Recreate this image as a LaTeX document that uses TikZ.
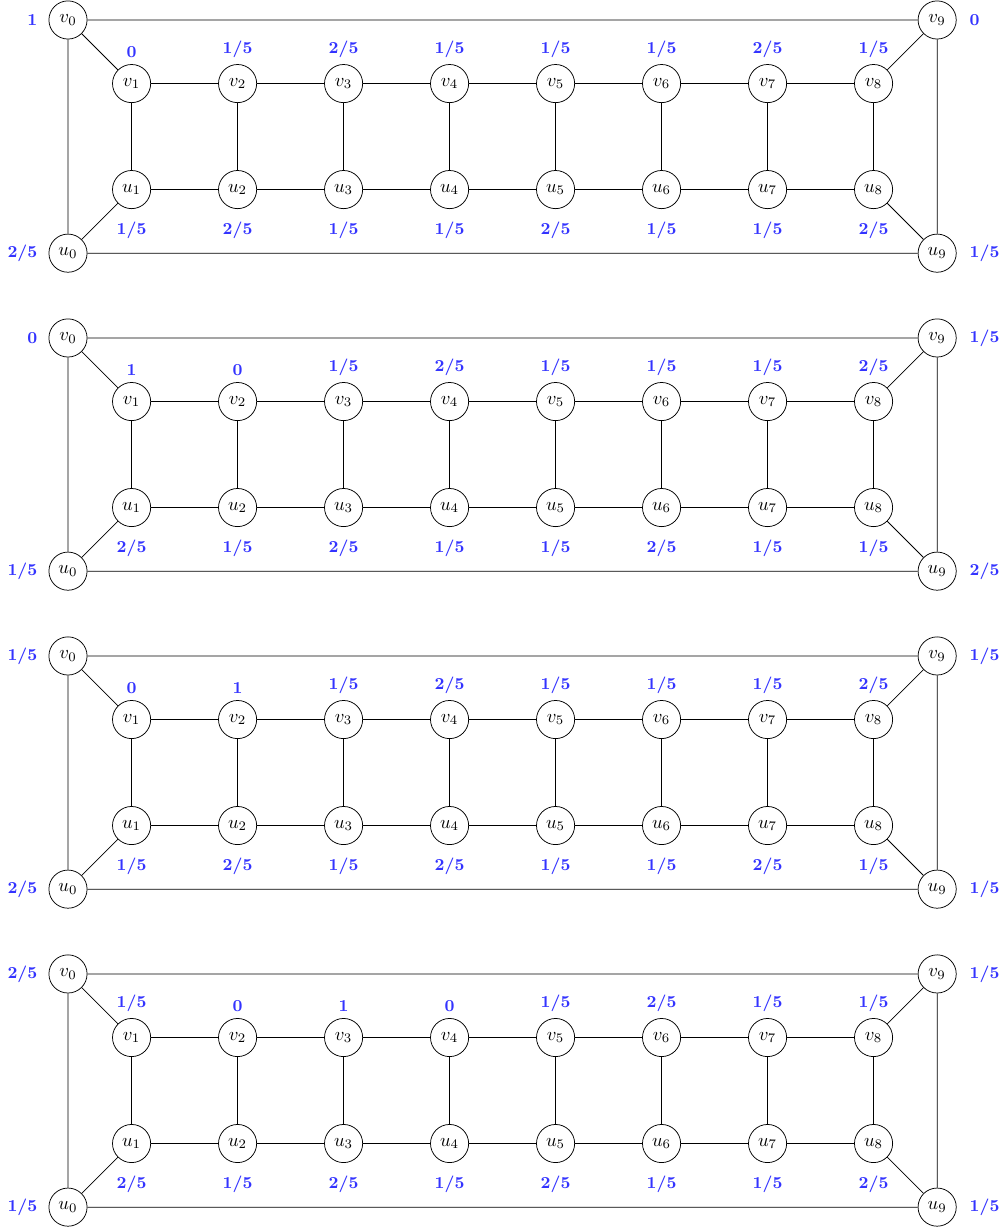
\documentclass[tikz,border=0pt]{standalone}
\tikzset{
  vtx/.style={circle, draw, minimum size=7.2mm, inner sep=0pt},
  val/.style={text=blue!80, font=\small\bfseries},
  vup/.style={label={[val, label distance=0pt]above:#1}},
  vdn/.style={label={[val, label distance=3.5pt]below:#1}},
  vlt/.style={label={[val, label distance=2.5pt]left:#1}},
  vrt/.style={label={[val, label distance=3.5pt]right:#1}},
}
% 外圈与梯子的边
\newcommand{\ladderedges}{%
  \draw (v0) -- (v9) (u0) -- (u9) (v0) -- (u0) (v9) -- (u9)
        (v0) -- (v1) (u0) -- (u1) (v8) -- (v9) (u8) -- (u9);
  \foreach \i in {1,...,8} \draw (v\i) -- (u\i);
  \foreach \i [evaluate=\i as \j using int(\i+1)] in {1,...,7}
    \draw (v\i) -- (v\j) (u\i) -- (u\j);
}
\begin{document}
\begin{tikzpicture}
  \useasboundingbox (-1.283,0.377) rectangle (17.642,-22.813);

  % 第一组
  \begin{scope}[name prefix=a-]
    \node[vtx, vlt=1] (v0) at (0,0) {$v_0$};
    \node[vtx, vrt=0] (v9) at (16.4,0) {$v_9$};
    \node[vtx, vlt=2/5] (u0) at (0,-4.4) {$u_0$};
    \node[vtx, vrt=1/5] (u9) at (16.4,-4.4) {$u_9$};
    \foreach \i/\a/\b in {1/0/{1/5}, 2/{1/5}/{2/5}, 3/{2/5}/{1/5}, 4/{1/5}/{1/5},
                          5/{1/5}/{2/5}, 6/{1/5}/{1/5}, 7/{2/5}/{1/5}, 8/{1/5}/{2/5}} {
      \node[vtx, vup=\a] (v\i) at ({2*\i-0.8},-1.2) {$v_\i$};
      \node[vtx, vdn=\b] (u\i) at ({2*\i-0.8},-3.2) {$u_\i$};
    }
    \ladderedges
  \end{scope}

  % 第二组
  \begin{scope}[yshift=-6cm, name prefix=b-]
    \node[vtx, vlt=0] (v0) at (0,0) {$v_0$};
    \node[vtx, vrt=1/5] (v9) at (16.4,0) {$v_9$};
    \node[vtx, vlt=1/5] (u0) at (0,-4.4) {$u_0$};
    \node[vtx, vrt=2/5] (u9) at (16.4,-4.4) {$u_9$};
    \foreach \i/\a/\b in {1/1/{2/5}, 2/0/{1/5}, 3/{1/5}/{2/5}, 4/{2/5}/{1/5},
                          5/{1/5}/{1/5}, 6/{1/5}/{2/5}, 7/{1/5}/{1/5}, 8/{2/5}/{1/5}} {
      \node[vtx, vup=\a] (v\i) at ({2*\i-0.8},-1.2) {$v_\i$};
      \node[vtx, vdn=\b] (u\i) at ({2*\i-0.8},-3.2) {$u_\i$};
    }
    \ladderedges
  \end{scope}

  % 第三组
  \begin{scope}[yshift=-12cm, name prefix=c-]
    \node[vtx, vlt=1/5] (v0) at (0,0) {$v_0$};
    \node[vtx, vrt=1/5] (v9) at (16.4,0) {$v_9$};
    \node[vtx, vlt=2/5] (u0) at (0,-4.4) {$u_0$};
    \node[vtx, vrt=1/5] (u9) at (16.4,-4.4) {$u_9$};
    \foreach \i/\a/\b in {1/0/{1/5}, 2/1/{2/5}, 3/{1/5}/{1/5}, 4/{2/5}/{2/5},
                          5/{1/5}/{1/5}, 6/{1/5}/{1/5}, 7/{1/5}/{2/5}, 8/{2/5}/{1/5}} {
      \node[vtx, vup=\a] (v\i) at ({2*\i-0.8},-1.2) {$v_\i$};
      \node[vtx, vdn=\b] (u\i) at ({2*\i-0.8},-3.2) {$u_\i$};
    }
    \ladderedges
  \end{scope}

  % 第四组
  \begin{scope}[yshift=-18cm, name prefix=d-]
    \node[vtx, vlt=2/5] (v0) at (0,0) {$v_0$};
    \node[vtx, vrt=1/5] (v9) at (16.4,0) {$v_9$};
    \node[vtx, vlt=1/5] (u0) at (0,-4.4) {$u_0$};
    \node[vtx, vrt=1/5] (u9) at (16.4,-4.4) {$u_9$};
    \foreach \i/\a/\b in {1/{1/5}/{2/5}, 2/0/{1/5}, 3/1/{2/5}, 4/0/{1/5},
                          5/{1/5}/{2/5}, 6/{2/5}/{1/5}, 7/{1/5}/{1/5}, 8/{1/5}/{2/5}} {
      \node[vtx, vup=\a] (v\i) at ({2*\i-0.8},-1.2) {$v_\i$};
      \node[vtx, vdn=\b] (u\i) at ({2*\i-0.8},-3.2) {$u_\i$};
    }
    \ladderedges
  \end{scope}
\end{tikzpicture}
\end{document}
